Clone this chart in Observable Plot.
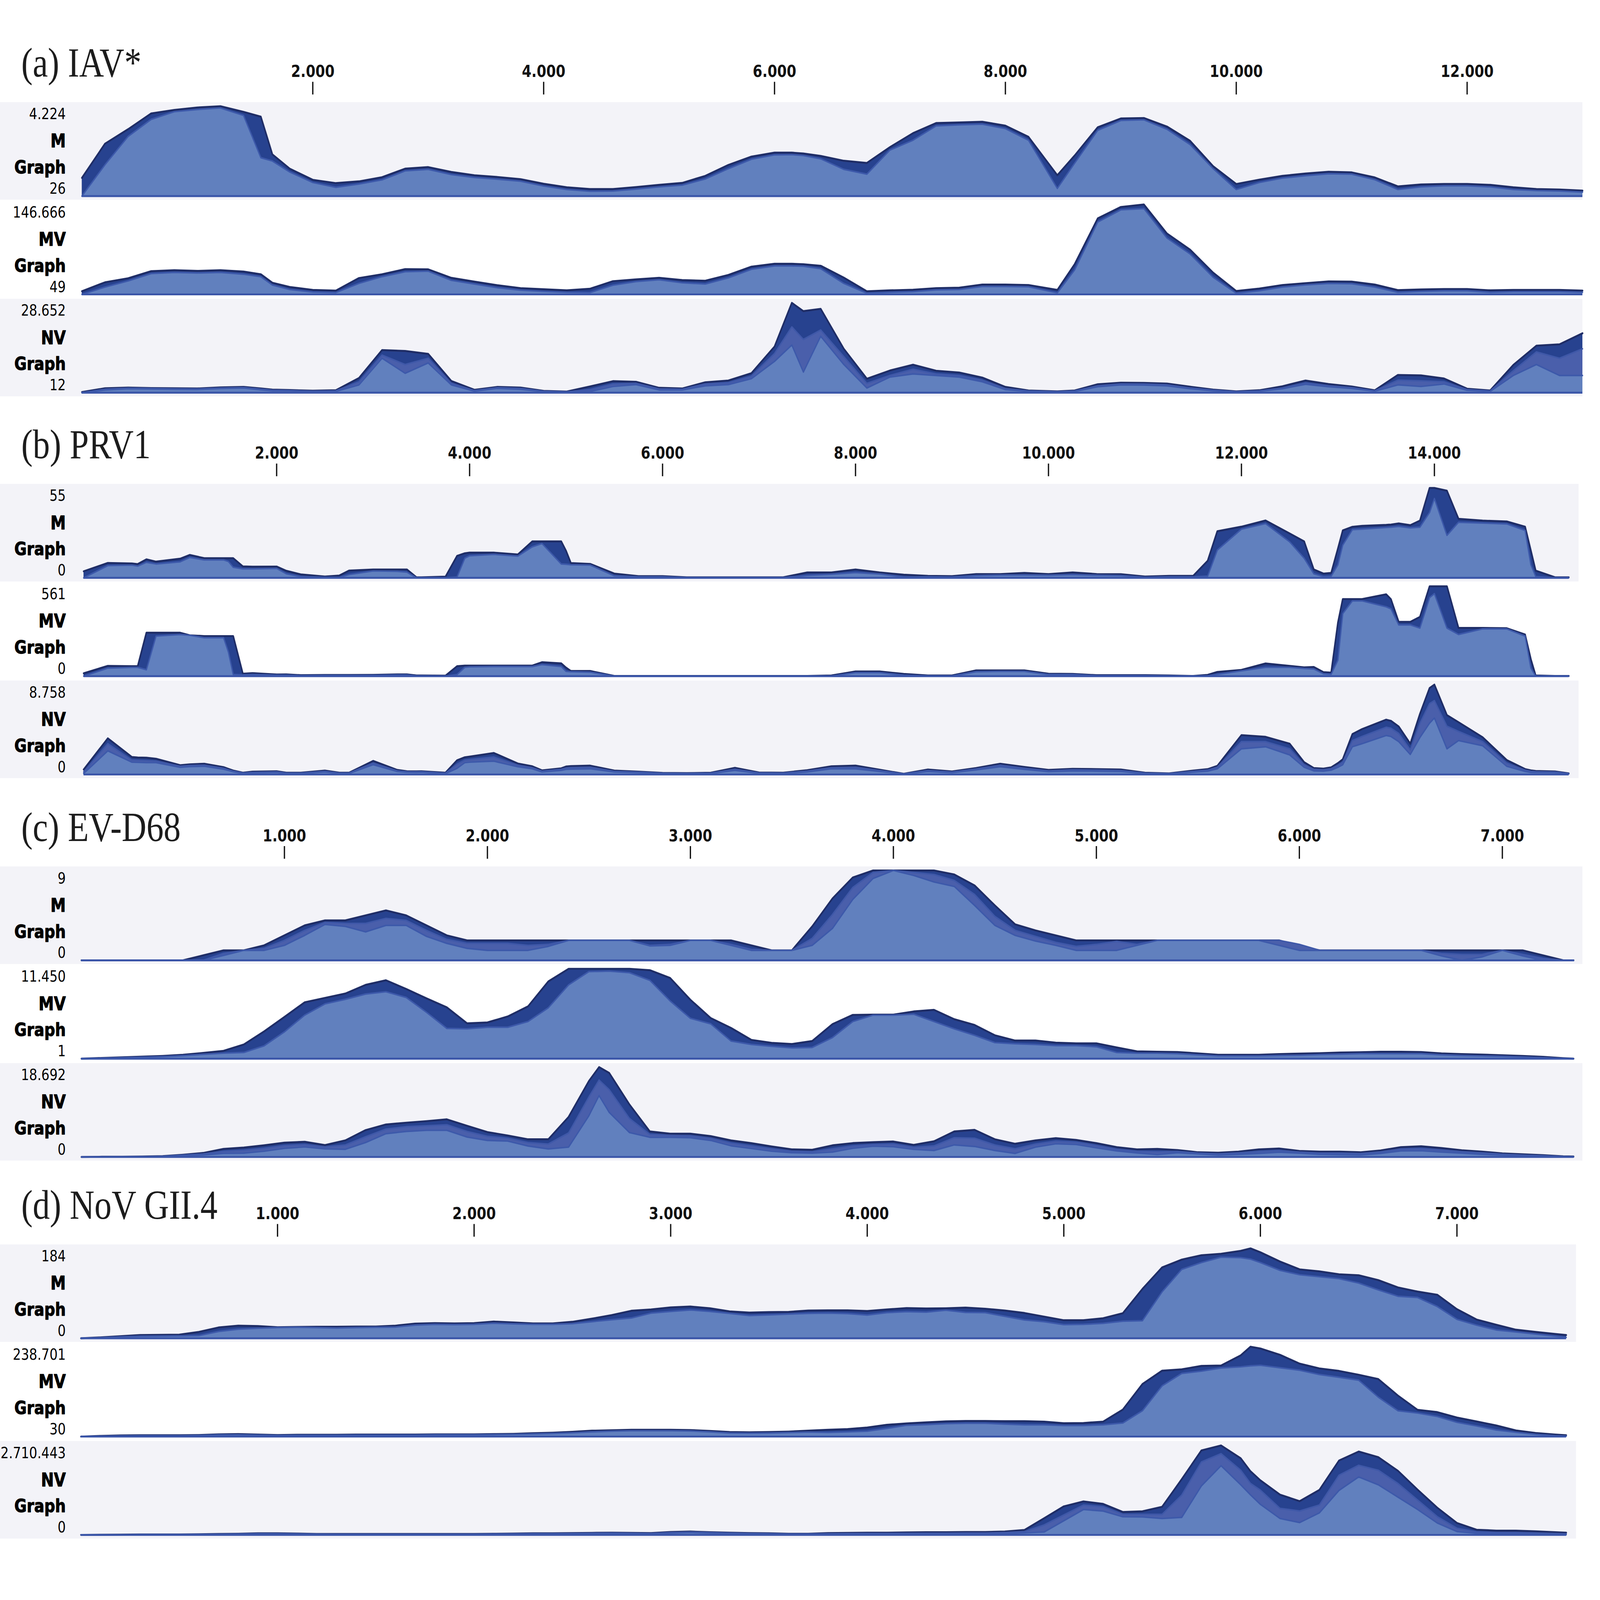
<!DOCTYPE html>
<html><head><meta charset="utf-8">
<script src="https://cdn.jsdelivr.net/npm/d3@7"></script>
<script src="https://cdn.jsdelivr.net/npm/@observablehq/plot@0.6"></script>
<style>
html,body{margin:0;padding:0;background:#fff;overflow:hidden;}
#chart{position:absolute;left:0;top:0;width:5000px;height:4166px;background:#fff;overflow:hidden;transform-origin:0 0;}
#chart svg{position:absolute;left:0;overflow:visible;}
</style></head><body><div id="chart"></div>
<script>
// ---------- (a) IAV* ----------
const aPos = [0,200,400,600,800,1000,1200,1400,1550,1650,1800, 2000,2200,2400,2600,2800,3000,3200,3400,3600,3800, 4000,4200,4400,4600,4800,5000,5200,5400,5600,5800, 6000,6150,6250,6400,6600,6800,7000,7200,7400,7600,7800, 8000,8200,8450,8600,8800,9000,9200,9400,9600,9800, 10000,10200,10400,10600,10800,11000,11200,11400,11600,11800, 12000,12200,12400,12600,12800,13000];
const aTicks = [2000,4000,6000,8000,10000,12000];
const aMTop = [876,2473,3149,3886,4050,4163,4224,3958,3733,1972,1306, 784,630,712,907,1306,1378,1152,999,917,814, 599,436,354,354,446,548,640,968,1480,1869, 2054,2054,2013,1900,1675,1572,2310,2965,3436,3467,3497, 3313,2791,999,1920,3241,3651,3671,3272,2606,1419, 589,794,968,1081,1163,1132,896,477,569,589, 589,548,436,354,333,282];
const aMFront = [26,1490,2811,3610,3968,4071,4142,3794,1818,1664,1152, 661,436,589,784,1204,1275,1030,896,814,722, 497,333,251,262,354,456,538,825,1306,1746, 1951,1961,1920,1767,1275,1050,2176,2637,3303,3354,3385, 3180,2637,384,1562,3098,3559,3590,3149,2432,1306, 333,661,866,978,1070,1050,794,333,456,507, 507,456,333,282,262,210];
const aMVTop = [5155,19743,26307,37978,39437,38343,39437,37248,32872,19013,12084, 7343,6249,26672,32872,41260,40895,27037,20837,15002,10261, 8437,6614,9167,21566,24484,27037,23390,22296,31778,45272, 50013,50013,49300,46731,27402,5155,6614,7708,10261,10990,16096, 16096,15366,7343,49284,124047,142647,146666,99247,72989,35425, 5520,9531,15366,18284,21202,20837,16096,6978,8072,8802, 8802,6614,7343,7343,7343,6249];
const aMVFront = [49,12000,22000,34000,36000,35000,36000,33000,29000,15400,8000, 4000,3000,18000,29000,37000,38000,23000,17000,11000,7000, 5000,3500,3000,15000,21000,24000,19000,17000,27000,41000, 46500,46500,46000,42000,18000,2000,3500,4500,7500,8000,13000, 13000,12500,2600,40000,118000,138000,140000,92000,66000,28000, 2000,6000,12000,15500,18000,17500,12000,3500,5000,6000, 6000,3500,4500,4500,4500,3500];
const aNVTop = [224,1426,1638,1497,1426,1355,1709,1850,1380,1000,860, 648,790,4678,13586,13304,12384,3759,931,1850,1638, 578,366,2000,3688,3476,1567,1355,3335,3900,6234, 14718,28652,26000,26737,14011,4466,7082,8920,7011,6446,4820, 1850,719,436,719,2699,3194,3123,2911,1921,1002, 436,790,2062,3900,2769,2000,790,5668,5527,4537, 1285,719,8850,15000,15425,18960];
const aNVMid = [12,1100,1450,1350,1250,1200,1500,1650,1150,800,700, 500,600,3500,12000,9000,11000,3000,700,1600,1350, 450,280,1000,2800,3000,1200,1100,2800,3200,5300, 12500,21000,17000,20000,11500,3000,5500,7500,6000,5500,4000, 1300,550,330,550,2200,2800,2750,2500,1500,800, 330,600,1500,3100,2200,1600,600,4000,3800,3500, 1000,550,7000,13000,11000,14000];
const aNVFront = [12,900,1300,1200,1100,1050,1350,1500,950,650,600, 400,450,2500,11000,6200,9500,2500,500,1400,1100, 350,200,400,2000,2600,900,900,2200,2600,4500, 10000,15200,6600,18000,9000,1500,5000,6000,5500,5000,3500, 1000,450,280,450,1900,2500,2450,2200,1300,650, 280,500,1300,2700,1900,1400,500,2500,2000,2800, 800,450,5500,9000,5500,5500];

// ---------- (b) PRV1 ----------
const bPos = [0,250,500,560,650,750,1000,1100,1250,1450, 1500,1550,1650,1750,2000,2100,2250,2500,2650,2750, 3000,3250,3350,3450,3500,3750,3870,3950,4000,4250, 4500,4650,4750,4950,5000,5050,5250,5500,5750,6000, 6250,6500,6750,7000,7250,7500,7750,8000,8250,8500, 8750,9000,9250,9500,9750,10000,10250,10500,10750,11000, 11250,11500,11650,11750,12000,12250,12500,12650,12750,12850, 12930,13000,13050,13150,13250,13500,13550,13630,13750,13850, 13950,14000,14130,14250,14500,14750,14940,15000,15050,15250, 15393];
const bTicks = [2000,4000,6000,8000,10000,12000,14000];
const bMTop = [4.0,9.1,8.8,8.4,11.3,9.9,11.7,14.0,12.0,12.0, 12.0,12.0,7.0,6.8,6.9,4.3,2.1,0.8,1.4,4.4, 5.1,5.1,5.1,0.3,0.3,0.7,13.4,15.0,15.4,15.4, 14.3,22.3,22.3,22.3,16.5,9.0,8.5,2.6,1.0,1.0, 0.3,0.3,0.3,0.3,0.3,3.3,3.3,5.1,3.3,1.9, 1.2,1.0,2.3,2.3,3.0,2.3,3.3,2.3,2.2,0.8, 1.2,1.2,10.4,28.5,31.3,35.1,27.1,22.3,5.1,2.6, 3.0,18.0,29.0,31.2,31.8,32.4,32.6,33.3,32.2,35.0, 55,55,53.3,36.1,35.0,34.5,31.3,16.7,4.4,0.3, 0.3];
const bMFront = [0,7.5,7.8,7.2,9.5,8.5,9.8,12.5,11.0,11.0, 10.0,6.5,5.5,5.5,5.8,2.5,0.8,0.3,0.3,2.0, 4.2,4.0,3.5,0,0,0,0.5,12,13.5,14.4, 13.3,19,21.0,8.5,8.3,8.0,7.8,1.3,0.6,0.6, 0.1,0.1,0.1,0.1,0.1,1.5,2.2,3.2,2.4,0.5, 0.6,0.5,1.4,1.7,1.8,1.6,2.0,1.6,1.4,0.3, 0.6,0.6,1.0,17.0,29.8,33.2,22.0,12,2.5,0.8, 1.0,8.0,20.0,29.5,29.8,30.8,31,31.5,30.6,31, 40,48.5,26,34.0,33.5,33.0,29,8.0,0.8,0, 0];
const bMVTop = [18,64,62,62,271,271,271,255,250,250, 250,250,15,19,10,11,6,7,7,7, 8,11,11,4,4,3,62,66,66,66, 66,66,87,80,53,32,32,1,1,1, 1,1,1,1,1,1,4,29,29,14, 4,4,36,36,36,15,14,6,6,6, 4,1,8,26,39,79,64,55,57,25, 22,334,481,481,481,511,480,339,339,370, 561,561,561,301,301,299,260,106,4,1, 1];
const bMVFront = [0,50,55,55,40,250,260,255,240,240, 150,10,8,10,6,6,3,4,4,4, 5,7,7,1,1,0,10,55,58,60, 60,60,72,60,30,28,25,0,0,0, 0,0,0,0,0,0,0,22,22,6, 1,1,28,30,30,10,10,3,3,3, 1,0,2,12,33,55,55,48,45,15, 12,100,390,470,470,433,420,320,320,300, 490,515,300,260,295,295,250,50,0,0, 0];
const bNVTop = [482,3520,1697,1650,1634,1529,901,990,1048,712, 545,377,168,272,314,168,168,377,168,168, 1320,440,314,300,314,168,1383,1676,1739,2095, 1068,796,398,600,775,817,859,377,272,147, 126,168,649,189,168,419,796,859,461,63, 482,293,629,1048,733,440,545,524,482,168, 105,377,517,838,3834,3666,2996,1195,629,566, 691,1110,1480,3938,4420,5342,5221,4672,2996,5908, 8422,8758,5782,5091,3624,1404,524,398,335,293, 105];
const bNVMid = [250,3000,1400,1380,1350,1300,800,870,900,600, 450,320,140,200,250,130,130,300,130,130, 1100,350,260,250,260,120,1000,1400,1450,1700, 900,650,320,500,620,660,700,300,220,120, 100,130,500,150,130,330,650,700,380,50, 380,230,530,900,600,350,450,420,380,130, 80,300,420,700,3200,3200,2500,950,500,450, 560,900,1200,3300,3700,4600,4500,4000,2400,5000, 6900,7200,4700,4200,3200,1100,420,300,260,230, 80];
const bNVFront = [100,2300,1200,1180,1150,1150,700,760,800,520, 400,270,110,150,200,100,100,250,100,100, 950,300,220,200,220,80,600,1150,1200,1300, 750,550,250,400,500,520,550,250,180,100, 80,100,400,120,100,250,550,550,300,40, 300,180,450,750,500,280,350,330,300,100, 60,230,330,550,2500,2700,1900,700,350,330, 420,700,950,2700,3000,3800,3700,3200,1950,3600, 5000,5500,2500,3300,2800,800,300,200,190,180, 50];

// ---------- (c) EV-D68 ----------
const cPos = [0,100,200,300,400,500,600,700,800,900, 1000,1100,1200,1300,1400,1500,1600,1700,1800,1900, 2000,2100,2200,2300,2400,2500,2550,2600,2700,2800,2900, 3000,3100,3200,3300,3400,3500,3600,3700,3800,3900, 4000,4100,4200,4300,4400,4500,4600,4700,4800,4900, 5000,5100,5200,5300,5400,5500,5600,5700,5800,5900, 6000,6100,6200,6300,6400,6500,6600,6700,6800,6900, 7000,7100,7200,7300,7351];
const cTicks = [1000,2000,3000,4000,5000,6000,7000];
const cMTop = [0,0,0,0,0,0,0.5,1,1,1.5, 2.5,3.5,4,4,4.5,5,4.5,3.5,2.5,2, 2,2,2,2,2,2,2,2,2,2,2, 2,2,2,1.5,1,1,3.4,6.2,8.3,9, 9,9,9,8.6,7.5,5.5,3.6,3,2.5,2, 2,2,2,2,2,2,2,2,2,2, 1.4,1,1,1,1,1,1,1,1,1, 1,1,0.5,0,0];
const cMMid = [0,0,0,0,0,0,0,0.7,1,1.2, 2,3,3.8,3.7,3.7,4.2,4,3,2.1,1.7, 1.7,1.7,1.5,1.6,2,2,2,2,2,1.5,1.6, 2,2,1.6,1.1,1,1,2.2,4.6,7.3,8.8, 9,8.8,8.6,8,6.6,4.4,3,2.4,1.8,1.4, 1.6,1.9,1.6,2,2,2,2,2,2,2, 1.6,1,1,1,1,1,1,0.7,0.6,0.6, 1,0.6,0.2,0,0];
const cMFront = [0,0,0,0,0,0,0,0.5,1,1, 1.5,2.5,3.6,3.4,2.85,3.5,3.5,2.4,1.7,1.2, 1,1,1,1.4,2,2,2,2,2,1.45,1.5, 2,2,1.5,1,1,1,1.5,3.2,6.1,8.2, 9,8.5,7.85,7.4,5.5,3.5,2.5,1.93,1.5,1, 1,1,1.5,2,2,2,2,2,2,1.5, 1,1,1,1,1,1,1,0.45,0,0.35, 1,0.45,0,0,0];
const cMVTop = [1,89,176,264,351,497,731,994,1811,3476, 5315,7184,7739,8294,9403,9987,8878,7680,6542,4498, 4615,5374,6659,9841,11450,11450,11450,11450,11450,11272,10279, 7505,5169,3914,2395,2016,1870,2249,4400,5578,5607, 5607,6016,6221,5023,4293,2979,2308,2308,2045,1957, 1957,1432,935,877,848,673,497,497,497,585, 643,702,789,819,877,877,848,673,585,527, 439,351,235,59,1];
const cMVFront = [1,60,120,180,260,380,560,700,790,1636, 3417,5549,6980,7564,8235,8527,7797,5900,3855,3797, 4002,4002,4731,6483,9403,11097,11120,11155,10951,9987,7360, 5140,4440,2249,1811,1578,1373,1432,2687,4731,5549, 5549,5666,4731,3797,2979,2045,1899,1811,1665,1665, 1519,789,702,702,643,497,351,351,351,410, 439,527,585,643,643,643,643,497,410,351, 293,205,118,30,1];
const cNVTop = [0,47,47,93,186,466,839,1678,1957,2423, 2982,3169,2470,3448,5592,6757,7130,7456,7829,6477, 5173,4474,3681,3681,8341,15800,18692,17475,10904,5312,4846, 4846,4334,3448,2889,2190,1584,1491,2423,2889,3076, 3215,2516,3262,5312,5639,3681,2749,3448,3914,3542, 2889,2050,1584,1678,1445,979,885,1118,1584,1771, 1258,1118,1118,979,1351,2050,2237,1864,1398,1118, 746,559,373,140,93];
const cNVMid = [0,20,30,60,140,380,630,1200,1400,1800, 2400,2600,2100,2500,4200,5800,6300,6500,6700,5300, 4300,3900,3000,2700,5000,12500,16000,14000,8000,4700,4500, 4400,3900,2900,2300,1700,1200,1100,1700,2300,2600, 2700,2000,2300,4000,3900,2500,1700,2700,3300,3100, 2400,1600,1200,1100,1150,800,650,850,1150,1350, 1000,800,800,700,1050,1650,1750,1450,1100,850, 560,370,250,90,40];
const cNVFront = [0,0,10,40,93,280,420,750,800,1200, 1800,2100,1700,1600,3000,4846,5312,5545,5545,4147, 3448,3309,2283,1678,2050,8574,12770,9273,5079,4100,4100, 4008,3448,2330,1771,1212,885,792,1025,1817,2237, 2144,1584,1351,2516,2190,1351,746,2050,2749,2610, 1911,1258,839,513,885,652,419,559,746,979, 792,559,466,419,746,1258,1305,1025,792,559, 373,186,140,47,0];

// ---------- (d) NoV GII.4 ----------
const dPos = [0,100,200,300,400,500,600,700,800,900, 1000,1100,1200,1300,1400,1500,1600,1700,1800,1900, 2000,2100,2200,2300,2400,2500,2600,2700,2800,2900, 3000,3100,3200,3300,3400,3500,3600,3700,3800,3900, 4000,4100,4200,4300,4400,4500,4600,4700,4800,4900, 5000,5100,5200,5300,5400,5500,5600,5700,5800,5900,5950, 6000,6100,6200,6300,6400,6500,6600,6700,6800,6900, 7000,7100,7200,7300,7400,7500,7556];
const dTicks = [1000,2000,3000,4000,5000,6000,7000];
const dMTop = [0,1.8,4.2,6.5,6.9,7.4,13,22.1,25.8,24.9, 22.6,23.1,23.5,23.5,24,24,25.8,30,30.9,30.4, 30.9,34.1,32.3,30.4,30.4,33.7,40.1,47.5,56.3,59, 63.2,65,61.3,54.9,52.6,53.5,54,56.7,57.2,57.2, 55.8,59,61.8,60.9,61.3,62.7,60.4,56.7,51.7,44.3, 36.9,36.9,41,51.2,101,145,161,170,173,179,184, 176,157,141,137,131,129,119,104,95.5,89, 59.5,38.3,27.7,17.5,12.9,8.8,6.5];
const dMFront = [0,1.2,2.8,4.2,4.6,5.0,5.5,14,18.6,20.5, 22,22.5,22,21,22,22.5,23,27,28.5,28, 28.5,31,29.5,28.5,28.5,30,34,38,41.5,51.5, 55,58,55,51,46.5,48,49.5,51,51.5,50.5, 47.5,52.5,54.5,53.5,57.5,53,52.5,45,37.5,34, 28,28.5,30.5,35,36,95,141,155,166,165,162, 155,139,130,126,122,113,99,86,83.5,65, 38.7,26.8,17,12.9,8.8,4.6,1.8];
const dMVTop = [30,1834,3037,3638,3638,3638,4239,6043,6643,5441, 4239,4840,4840,4840,5441,5441,5441,5441,6043,6043, 6043,6643,7246,9050,10252,12657,15664,16866,18069,18069, 18069,17468,15062,12056,11455,12056,13259,15664,18069,19873, 24082,31298,34906,37912,40317,41520,41520,40919,40919,39716, 35505,36108,39716,71584,139532,175008,178616,187635,188838,215700,238701, 233900,217099,193649,181022,174408,164186,152761,108866,70985,64972, 50541,40317,29494,16265,9651,5441,3638];
const dMVFront = [30,900,1800,2400,2400,2400,3000,4500,5000,4200, 3000,3600,3600,3600,4200,4200,4200,4200,4800,4800, 4800,5400,6000,7200,8400,10200,12600,14400,15600,15600, 15600,15000,12600,9600,9000,9600,10800,12000,11000,12500, 14460,21676,30094,31900,34300,35500,35500,33100,31300,31300, 29500,29500,31300,36100,68600,134700,167800,173800,182200,185200,188000, 189400,182800,176200,164800,157600,149800,104700,68600,62600,53500, 37900,28300,17500,11500,6000,2400,1200];
const dNVTop = [0,3400,6800,13550,13550,13550,20300,27100,33900,47400, 47400,40600,27100,27100,27100,27100,27100,27100,27100,27100, 27100,33900,40600,47400,47400,54200,61000,67800,61000,54200, 88100,101600,81300,67800,54200,47400,33900,33900,54200,61000, 67800,67800,74500,81300,81300,88100,88100,101600,149100,501400, 860600,1009600,935100,691200,711500,847000,1680400,2547800,2696800,2310600,1917600, 1646600,1212900,1016400,1355200,2242900,2513900,2344500,1931200,1362000,819900, 359100,155800,128700,128700,108400,81300,67800];
const dNVMid = [0,0,5000,10000,10000,10000,15000,20000,27000,38000, 38000,32000,21000,20000,20000,20000,20000,20000,20000,20000, 20000,27000,32000,38000,38000,44000,50000,56000,50000,42000, 70000,85000,68000,56000,44000,38000,27000,27000,35000,40000, 44000,44000,47000,50000,50000,54000,54000,70000,100000,300000, 600000,900000,850000,620000,620000,620000,1200000,2200000,2450000,1950000,1550000, 1350000,800000,720000,900000,1800000,2100000,1950000,1550000,1050000,550000, 200000,90000,70000,65000,55000,40000,30000];
const dNVFront = [0,0,3000,7000,7000,7000,10000,14000,20000,30000, 30000,25000,15000,14000,14000,14000,14000,14000,14000,14000, 14000,20000,25000,30000,30000,35000,40000,45000,40000,30000, 55000,70000,55000,45000,35000,30000,20000,20000,15000,20000, 20000,20000,20000,20000,20000,20000,20000,40000,60000,88000, 427000,765700,718300,548900,542100,494600,528500,1477200,2087000,1511000,1206000, 921500,494600,372700,664000,1341600,1748200,1511000,1138400,765700,359100, 101600,47400,33900,27100,20300,13600,6800];

// ---------- layout / assembly ----------
const de = d3.formatLocale({decimal: ",", thousands: ".", grouping: [3], currency: ["", ""]});
const fmt = de.format(",d");
const GRAY = "#f3f3f8";

const groups = [
  {title: "(a) IAV*", pos: aPos, ticks: aTicks, x0: 255.5, plotRight: 4945, bandRight: 4945, end: 13000, T: 266,
   bands: [
     {name: "M", min: 26, max: 4224, top: aMTop, front: aMFront, bg: GRAY},
     {name: "MV", min: 49, max: 146666, top: aMVTop, front: aMVFront, bg: "#ffffff"},
     {name: "NV", min: 12, max: 28652, top: aNVTop, mid: aNVMid, front: aNVFront, bg: GRAY}]},
  {title: "(b) PRV1", pos: bPos, ticks: bTicks, x0: 261, plotRight: 4902, bandRight: 4933, end: 15393, T: 1260,
   bands: [
     {name: "M", min: 0, max: 55, top: bMTop, front: bMFront, bg: GRAY},
     {name: "MV", min: 0, max: 561, top: bMVTop, front: bMVFront, bg: "#ffffff"},
     {name: "NV", min: 0, max: 8758, top: bNVTop, mid: bNVMid, front: bNVFront, bg: GRAY}]},
  {title: "(c) EV-D68", pos: cPos, ticks: cTicks, x0: 254, plotRight: 4917, bandRight: 4945, end: 7351, T: 2256,
   bands: [
     {name: "M", min: 0, max: 9, top: cMTop, mid: cMMid, front: cMFront, bg: GRAY},
     {name: "MV", min: 1, max: 11450, top: cMVTop, front: cMVFront, bg: "#ffffff"},
     {name: "NV", min: 0, max: 18692, top: cNVTop, mid: cNVMid, front: cNVFront, bg: GRAY}]},
  {title: "(d) NoV GII.4", pos: dPos, ticks: dTicks, x0: 252.5, plotRight: 4894, bandRight: 4925, end: 7556, T: 3240,
   bands: [
     {name: "M", min: 0, max: 184, top: dMTop, front: dMFront, bg: GRAY},
     {name: "MV", min: 30, max: 238701, top: dMVTop, front: dMVFront, bg: "#ffffff"},
     {name: "NV", min: 0, max: 2710443, top: dNVTop, mid: dNVMid, front: dNVFront, bg: GRAY}]}
];

const chart = document.getElementById("chart");
// the browser window may be clamped below 5000x4166: fit the 5000x4166 design into it
const sx = Math.min(1, window.innerWidth / 5000), sy = Math.min(1, window.innerHeight / 4166);
chart.style.transform = `scale(${sx}, ${sy})`;

const BAND_H = 254, BAND_STEP = 256, LABEL_RIGHT = 205;

function place(svg, top) {
  svg.style.top = top + "px";
  svg.style.left = "0px";
  chart.appendChild(svg);
}

for (const g of groups) {
  const headTop = 160;
  const axisSvg = Plot.plot({
    width: g.bandRight, height: headTop + 1,
    marginLeft: g.x0, marginRight: g.bandRight - g.plotRight, marginTop: headTop, marginBottom: 0,
    x: {domain: [0, g.end]},
    style: {background: "transparent", overflow: "visible"},
    marks: [
      Plot.axisX(g.ticks, {anchor: "top", tickSize: 33, tickPadding: 12, tickFormat: fmt,
        fontSize: 43, fontWeight: "bold", fontFamily: "DejaVu Sans", color: "#111", strokeWidth: 4}),
      Plot.text([g.title], {text: d => d, frameAnchor: "top-left", dx: 66 - g.x0, dy: -46,
        textAnchor: "start", lineAnchor: "bottom", fontSize: 107, fontFamily: "Liberation Serif", fill: "#1c1c1c"})
    ]
  });
  place(axisSvg, g.T - 21 - headTop);

  g.bands.forEach((b, k) => {
    for (const key of ["top", "mid", "front"]) {
      if (b[key] && b[key].length !== g.pos.length) throw new Error(g.title + " " + b.name + " " + key + " length " + b[key].length + " vs " + g.pos.length);
    }
    const rows = g.pos.map((x, i) => ({x, t: b.top[i], m: b.mid ? b.mid[i] : null, f: b.front[i]}));
    const base = b.min;
    const marks = [
      Plot.areaY(rows, {x: "x", y1: () => base, y2: "t", fill: "#27428f"}),
      Plot.lineY(rows, {x: "x", y: "t", stroke: "#1f2d66", strokeWidth: 5})
    ];
    if (b.mid) {
      marks.push(Plot.areaY(rows, {x: "x", y1: () => base, y2: "m", fill: "#4a5fab"}));
      marks.push(Plot.lineY(rows, {x: "x", y: "m", stroke: "#3f58a8", strokeWidth: 4}));
    }
    marks.push(Plot.areaY(rows, {x: "x", y1: () => base, y2: "f", fill: "#6180be"}));
    marks.push(Plot.lineY(rows, {x: "x", y: "f", stroke: "#3d59aa", strokeWidth: 4}));
    marks.push(Plot.ruleY([base], {stroke: "#3a55a8", strokeWidth: 5}));
    const dx = LABEL_RIGHT - g.x0;
    marks.push(Plot.text([fmt(b.max)], {text: d => d, frameAnchor: "top-left", dx, dy: 21, textAnchor: "end", lineAnchor: "middle", fontSize: 40, fontFamily: "DejaVu Sans", fill: "#000"}));
    marks.push(Plot.text([b.name], {text: d => d, frameAnchor: "top-left", dx, dy: 92, textAnchor: "end", lineAnchor: "middle", fontSize: 48, fontWeight: "bold", fontFamily: "DejaVu Sans", fill: "#000", stroke: "#000", strokeWidth: 1.5}));
    marks.push(Plot.text(["Graph"], {text: d => d, frameAnchor: "top-left", dx, dy: 160, textAnchor: "end", lineAnchor: "middle", fontSize: 47, fontWeight: "bold", fontFamily: "DejaVu Sans", fill: "#000", stroke: "#000", strokeWidth: 1.5}));
    marks.push(Plot.text([fmt(b.min)], {text: d => d, frameAnchor: "bottom-left", dx, dy: -19, textAnchor: "end", lineAnchor: "middle", fontSize: 40, fontFamily: "DejaVu Sans", fill: "#000"}));

    const svg = Plot.plot({
      width: g.bandRight, height: BAND_H,
      marginLeft: g.x0, marginRight: g.bandRight - g.plotRight, marginTop: 10, marginBottom: 10,
      x: {domain: [0, g.end], axis: null},
      y: {domain: [b.min, b.max], axis: null},
      style: {background: b.bg, overflow: "visible"},
      marks
    });
    place(svg, g.T + k * BAND_STEP);
  });
}
</script>
</body></html>
